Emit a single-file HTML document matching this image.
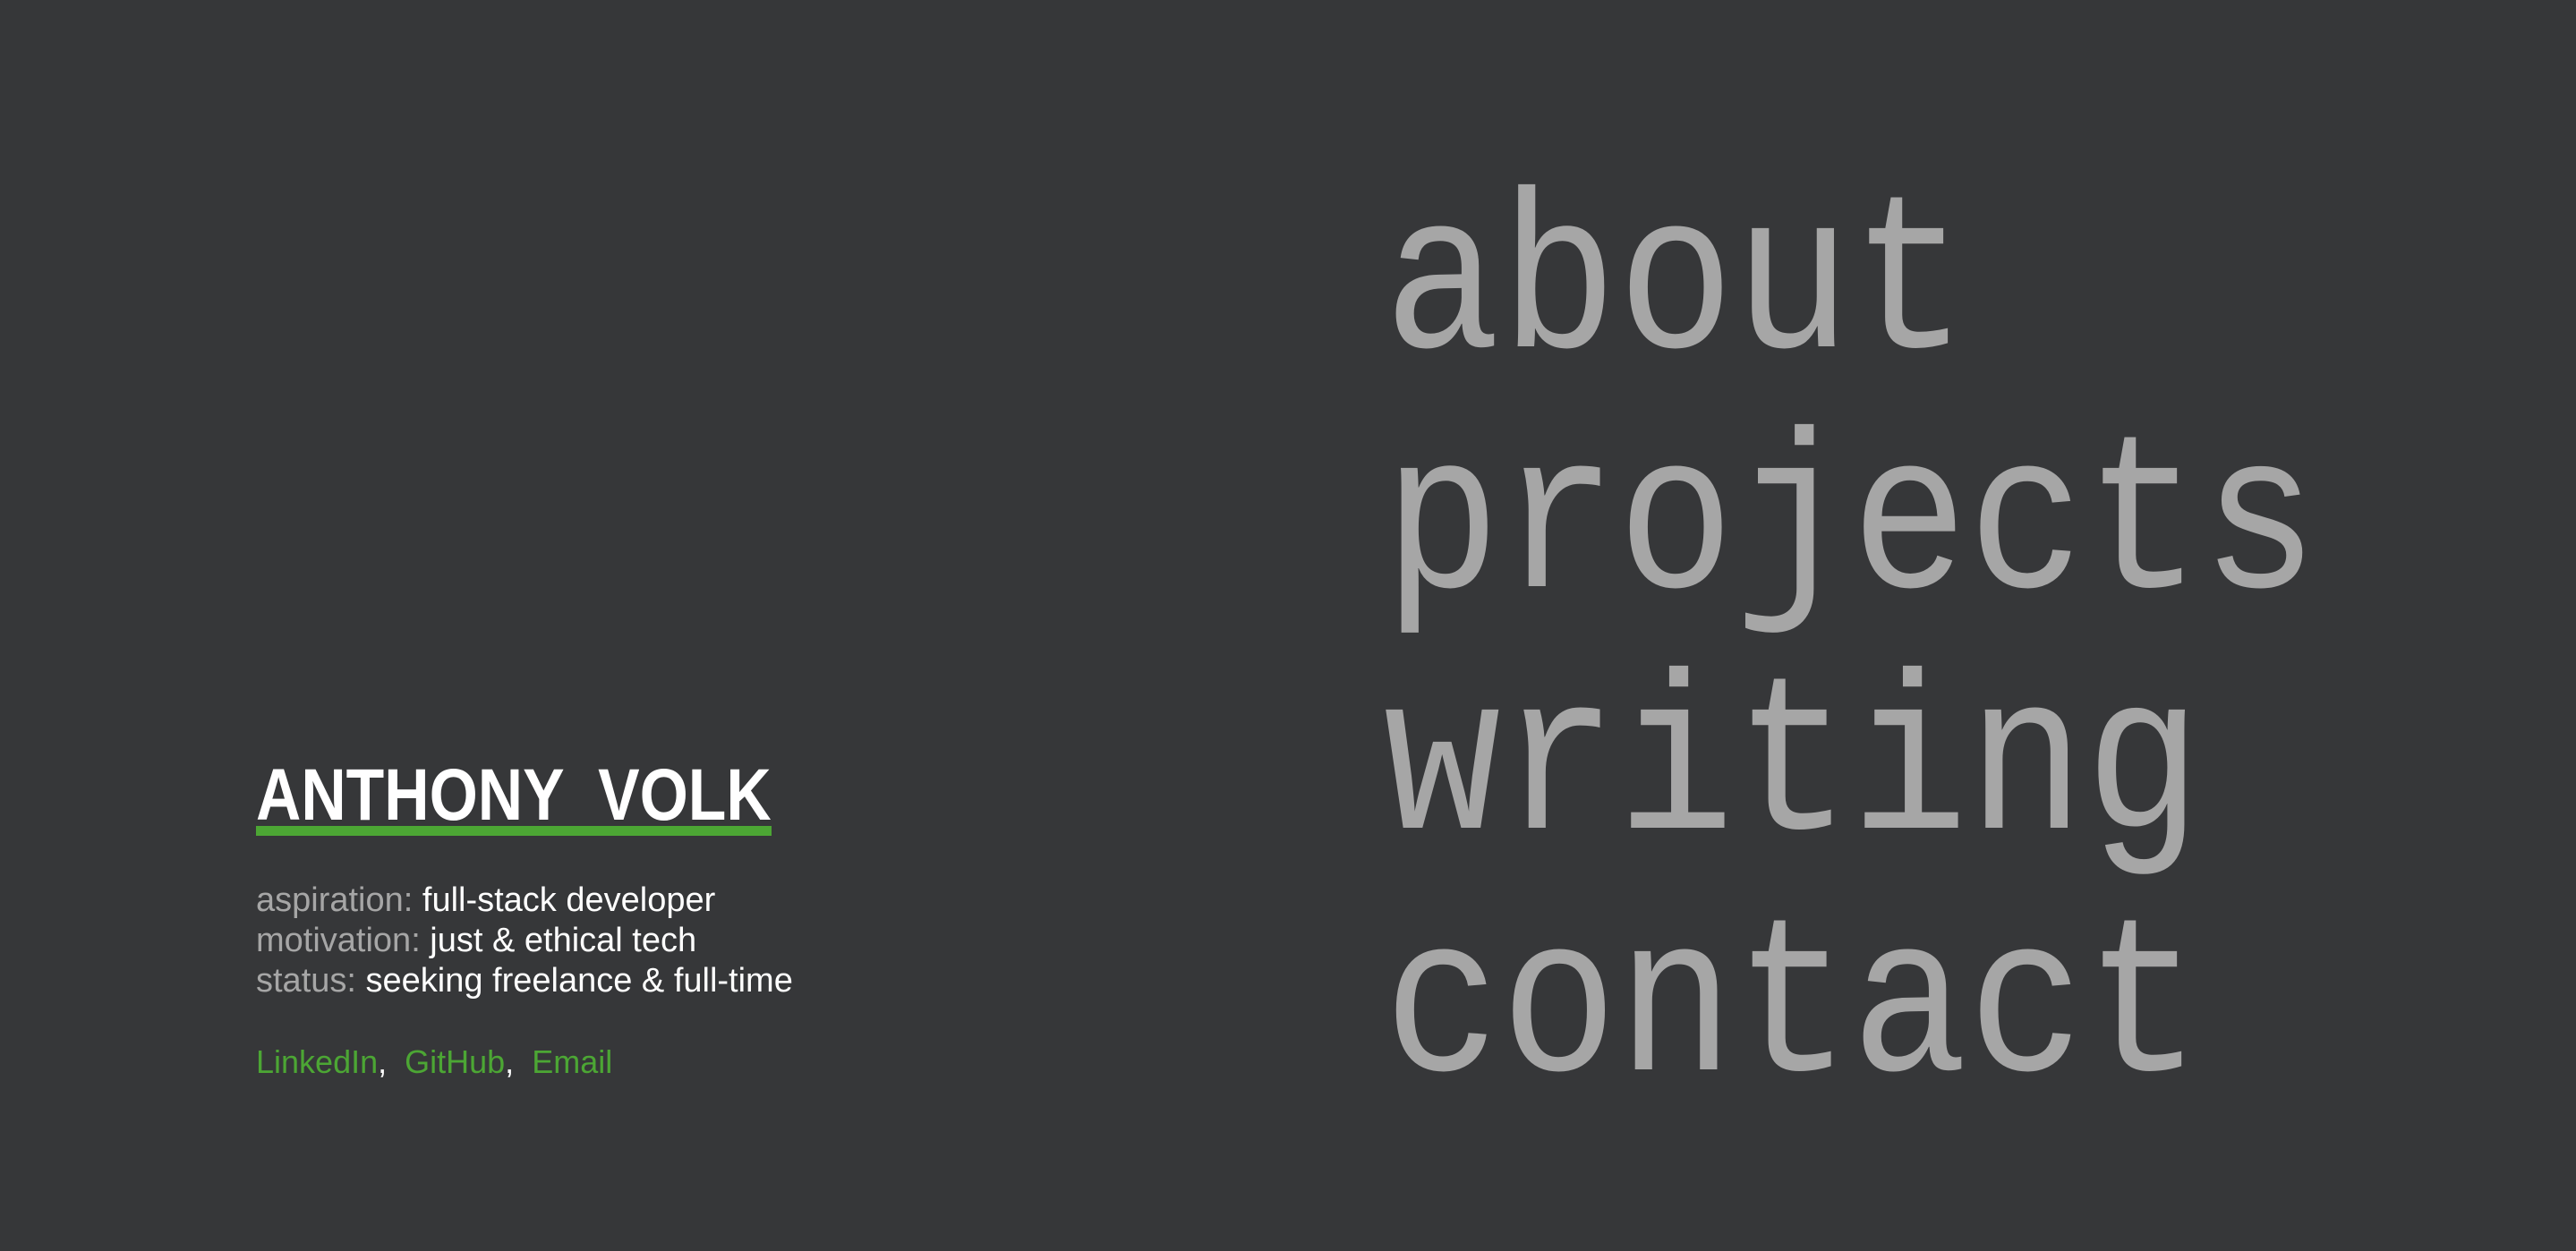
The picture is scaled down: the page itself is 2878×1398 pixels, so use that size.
<!DOCTYPE html>
<html><head><meta charset="utf-8"><style>
html,body{margin:0;padding:0}
body{width:2878px;height:1398px;background:#363739;position:relative;overflow:hidden;font-family:"Liberation Sans",sans-serif}
.m{position:absolute;left:1546px;font-family:"Liberation Mono",monospace;font-size:250px;line-height:1;color:#a6a6a6;transform:scaleX(0.87);transform-origin:0 0;white-space:nowrap}
.name{position:absolute;left:286px;top:848px;font-size:82px;line-height:1;font-weight:bold;color:#fff;white-space:pre;transform:scaleX(0.85);transform-origin:0 0}
.bar{position:absolute;left:286px;top:923px;width:576px;height:11px;background:#4ca634}
.i{position:absolute;left:286px;font-size:38px;line-height:1;color:#fff;white-space:nowrap}
.i span{color:#a6a6a6}
.l{position:absolute;left:286px;top:1169px;font-size:36px;line-height:1;color:#4ca634;white-space:pre}
.l b{font-weight:normal;color:#fff}
</style></head><body>
<div class="m" style="top:197px">about</div>
<div class="m" style="top:465px">projects</div>
<div class="m" style="top:735px">writing</div>
<div class="m" style="top:1005px">contact</div>
<div class="name">ANTHONY  VOLK</div>
<div class="bar"></div>
<div class="i" style="top:987px"><span>aspiration:</span> full-stack developer</div>
<div class="i" style="top:1032px"><span>motivation:</span> just &amp; ethical tech</div>
<div class="i" style="top:1077px"><span>status:</span> seeking freelance &amp; full-time</div>
<div class="l">LinkedIn<b>, </b> GitHub<b>, </b> Email</div>
</body></html>
